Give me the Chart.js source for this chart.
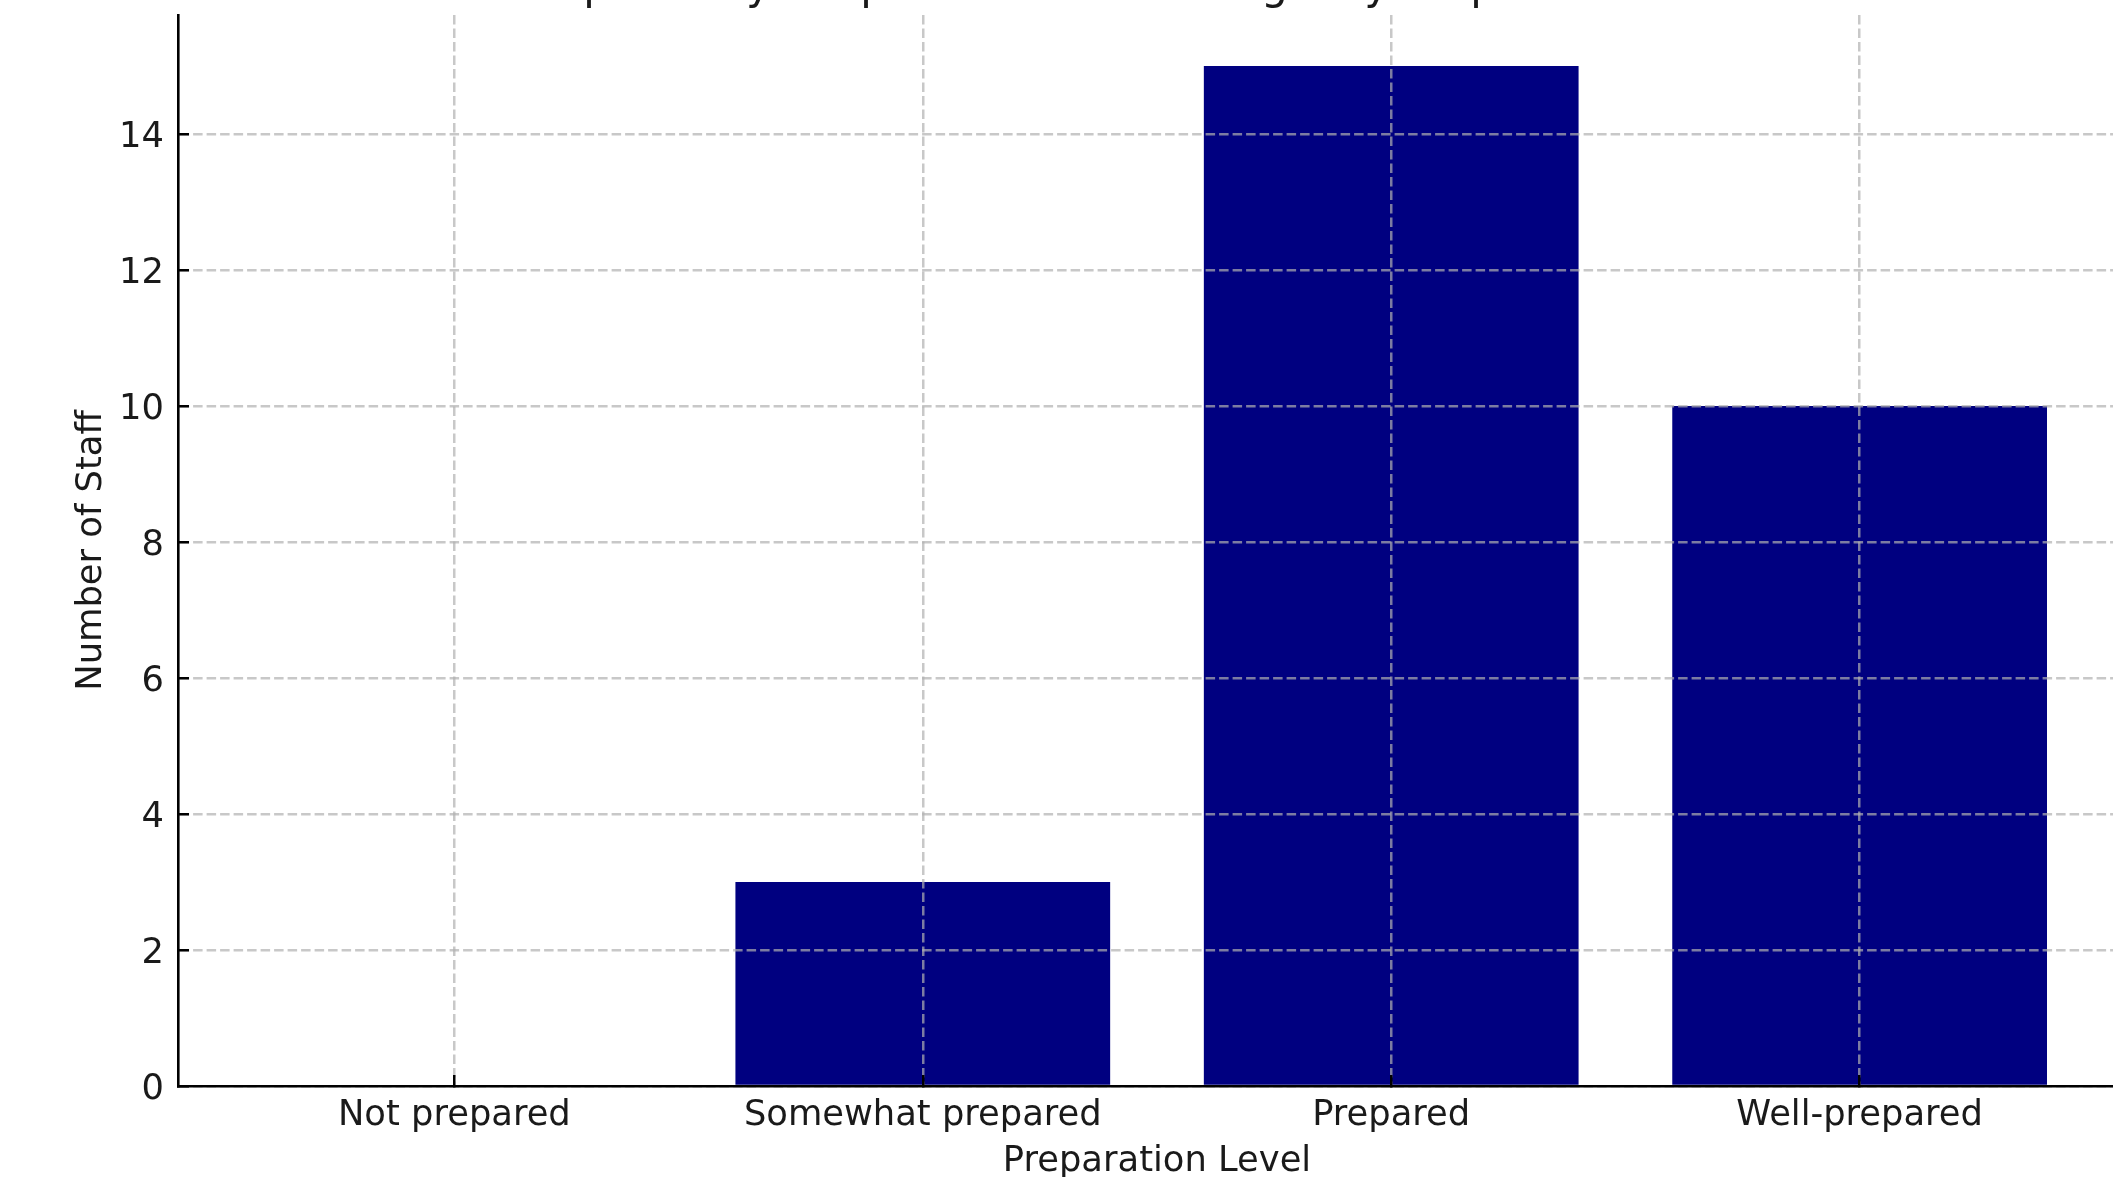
<!DOCTYPE html>
<html>
<head>
<meta charset="utf-8">
<script src="https://cdn.jsdelivr.net/npm/chart.js@4.4.1/dist/chart.umd.min.js"></script>
<style>
  html, body { margin: 0; padding: 0; background: #ffffff; overflow: hidden; width: 2113px; height: 1177px; }
  #wrap { position: absolute; left: 0; top: -60px; width: 2314px; height: 1260px; }
</style>
</head>
<body>
<div id="wrap"><canvas id="c"></canvas></div>
<script>
// ---- data ----
const categories = ['Not prepared', 'Somewhat prepared', 'Prepared', 'Well-prepared'];
const staffCounts = [0, 3, 15, 10];
const yTickValues = [0, 2, 4, 6, 8, 10, 12, 14];
const chartTitle = 'Post-Workshop Survey Responses: Staff Emergency Preparedness Levels';
const xAxisTitle = 'Preparation Level';
const yAxisTitle = 'Number of Staff';

const FONT = 'DejaVu Sans';
const FS = 35.3;
const TEXT = '#1a1a1a';
const GRID = 'rgba(176,176,176,0.7)';

const points = staffCounts.map((v, i) => ({ x: i, y: v }));

new Chart(document.getElementById('c'), {
  type: 'bar',
  data: {
    datasets: [{
      data: points,
      backgroundColor: '#000080',
      borderWidth: 0,
      barPercentage: 0.8,
      categoryPercentage: 1.0
    }]
  },
  options: {
    responsive: true,
    maintainAspectRatio: false,
    devicePixelRatio: 1,
    animation: false,
    layout: { padding: { left: 0, right: 178, top: 0, bottom: 0 } },
    plugins: {
      legend: { display: false },
      tooltip: { enabled: false },
      title: {
        display: true,
        text: chartTitle,
        color: TEXT,
        font: { family: FONT, size: 42.4, weight: 'normal', lineHeight: 1.2 },
        padding: { top: 22.6, bottom: 1.5 }
      }
    },
    scales: {
      x: {
        type: 'linear',
        position: 'bottom',
        min: -0.59,
        max: 3.59,
        offset: false,
        afterFit: (s) => { s.height = 114; },
        afterBuildTicks: (s) => { s.ticks = categories.map((_, i) => ({ value: i })); },
        ticks: {
          padding: 20,
          color: TEXT,
          font: { family: FONT, size: FS },
          maxRotation: 0,
          autoSkip: false,
          callback: (v) => categories[v]
        },
        grid: {
          z: 1,
          offset: false,
          color: GRID,
          lineWidth: 2.5,
          drawTicks: true,
          tickLength: -11,
          tickColor: '#000000',
          tickWidth: 2.5
        },
        border: { z: 2, display: true, color: '#000000', width: 2.6, dash: [9.5, 4] },
        title: {
          display: true,
          text: xAxisTitle,
          color: TEXT,
          font: { family: FONT, size: FS },
          padding: { top: 0, bottom: 16.5 }
        }
      },
      y: {
        type: 'linear',
        position: 'left',
        min: 0,
        max: 15.75,
        afterFit: (s) => { s.width = 178; },
        afterBuildTicks: (s) => { s.ticks = yTickValues.map(v => ({ value: v })); },
        ticks: {
          padding: 25,
          labelOffset: 3.5,
          color: TEXT,
          font: { family: FONT, size: FS },
          callback: (v) => String(v)
        },
        grid: {
          z: 1,
          color: GRID,
          lineWidth: 2.5,
          drawTicks: true,
          tickLength: -11,
          tickColor: '#000000',
          tickWidth: 2.5
        },
        border: { z: 2, display: true, color: '#000000', width: 2.6, dash: [9.5, 4] },
        title: {
          display: true,
          text: yAxisTitle,
          color: TEXT,
          font: { family: FONT, size: FS },
          padding: { top: 71, bottom: 0 }
        }
      }
    }
  }
});
</script>
</body>
</html>
